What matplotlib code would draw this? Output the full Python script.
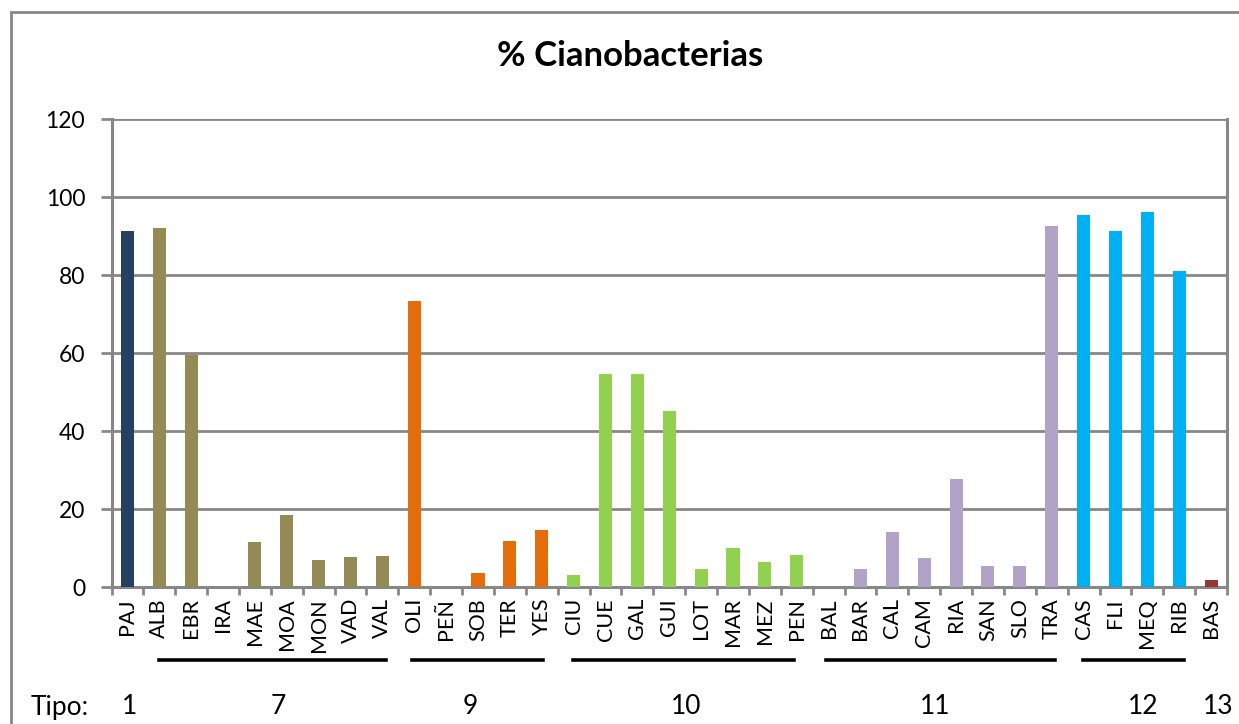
import matplotlib
matplotlib.use("Agg")
import matplotlib.pyplot as plt
from matplotlib.patches import Rectangle
from matplotlib.lines import Line2D
import matplotlib.transforms as mtransforms

plt.rcParams['font.family'] = ['Lato', 'DejaVu Sans']

# Sites, grouped by lake type
sites = ["PAJ",
         "ALB", "EBR", "IRA", "MAE", "MOA", "MON", "VAD", "VAL",
         "OLI", "PEÑ", "SOB", "TER", "YES",
         "CIU", "CUE", "GAL", "GUI", "LOT", "MAR", "MEZ", "PEN",
         "BAL", "BAR", "CAL", "CAM", "RIA", "SAN", "SLO", "TRA",
         "CAS", "FLI", "MEQ", "RIB",
         "BAS"]
tipo = [1,
        7, 7, 7, 7, 7, 7, 7, 7,
        9, 9, 9, 9, 9,
        10, 10, 10, 10, 10, 10, 10, 10,
        11, 11, 11, 11, 11, 11, 11, 11,
        12, 12, 12, 12,
        13]
cianobacterias = [91.3,
                  92.0, 59.5, 0.0, 11.5, 18.5, 6.9, 7.7, 8.0,
                  73.4, 0.0, 3.7, 11.9, 14.5,
                  3.2, 54.5, 54.5, 45.2, 4.5, 10.1, 6.3, 8.3,
                  0.0, 4.5, 14.0, 7.4, 27.6, 5.3, 5.3, 92.5,
                  95.4, 91.3, 96.2, 81.0,
                  1.8]

tipo_colors = {1: "#254061", 7: "#948A54", 9: "#E46C0A", 10: "#92D050",
               11: "#B3A2C7", 12: "#00B0F0", 13: "#953735"}
yticks = [0, 20, 40, 60, 80, 100, 120]

W, H = 1239, 724
fig = plt.figure(figsize=(W / 100, H / 100), dpi=100)
ax = fig.add_axes([111.5 / W, 1 - 587 / H, (1227 - 111.5) / W, (587 - 119) / H])

x = list(range(len(sites)))
ax.bar(x, cianobacterias, width=0.41, color=[tipo_colors[t] for t in tipo],
       zorder=3)

grid_c = "#878787"
ax.set_xlim(-0.5, len(sites) - 0.5)
ax.set_ylim(0, 120)
ax.set_yticks(yticks)
ax.set_yticklabels([str(v) for v in yticks], fontsize=16.5)
ax.yaxis.grid(True, color=grid_c, linewidth=2.0, zorder=1)
ax.set_axisbelow(True)

ax.set_xticks(x)
ax.set_xticklabels(sites, rotation=90, fontsize=15.5, va="top")
ax.set_xticks([i - 0.5 for i in range(len(sites) + 1)], minor=True)
ax.set_xlim(-0.5, len(sites) - 0.5)
ax.tick_params(axis="x", which="major", length=0, pad=8)
ax.tick_params(axis="x", which="minor", length=6, width=2, color=grid_c,
               direction="out")
ax.tick_params(axis="y", length=8, width=2, color=grid_c, pad=11)

for side in ["left", "bottom", "right"]:
    ax.spines[side].set_color(grid_c)
    ax.spines[side].set_linewidth(2.2)
ax.spines["top"].set_visible(False)

# Group underlines and type numbers below the site labels
trans = mtransforms.blended_transform_factory(ax.transData, fig.transFigure)
group_spans = [(0.99, 8.12), (8.93, 13.04), (13.98, 20.92),
               (21.93, 29.11), (29.99, 33.16)]
for x0, x1 in group_spans:
    fig.add_artist(Line2D([x0, x1], [1 - 660 / H] * 2, transform=trans,
                          color="black", linewidth=2.6))

tipo_labels = ["1", "7", "9", "10", "11", "12", "13"]
tipo_label_x = [0.08, 4.73, 10.75, 17.53, 25.35, 31.88, 34.23]
for lab, xp in zip(tipo_labels, tipo_label_x):
    fig.text(xp, 1 - 707 / H, lab, transform=trans, ha="center",
             va="center", fontsize=19)
fig.text(60 / W, 1 - 707 / H, "Tipo:", ha="center", va="center", fontsize=19)

fig.text(630 / W, 1 - 56 / H, "% Cianobacterias", ha="center", va="center",
         fontsize=25, fontweight="bold")

# Chart-area frame
fig.add_artist(Rectangle((11 / W, -0.05), 1.1, 1 - 12 / H + 0.05,
                         transform=fig.transFigure, fill=False,
                         edgecolor=grid_c, linewidth=2.0, clip_on=False))

fig.savefig("out.png", dpi=100)
